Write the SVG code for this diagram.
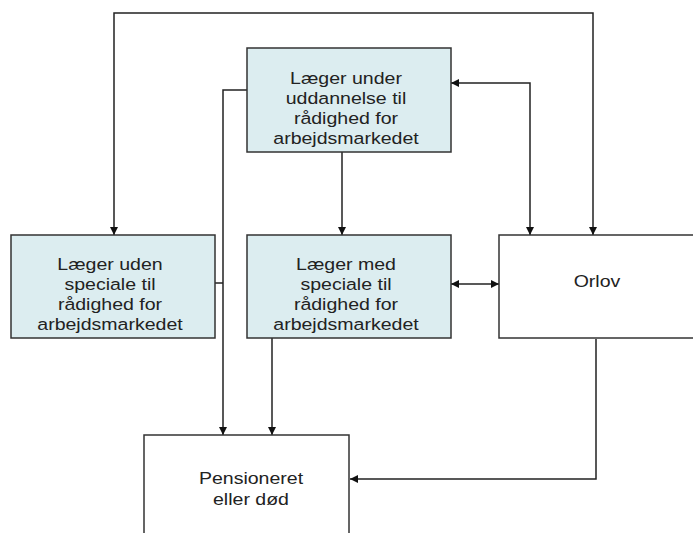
<svg xmlns="http://www.w3.org/2000/svg" width="693" height="533" viewBox="0 0 693 533">
<style>
.box{stroke:#333;stroke-width:1.5}
.blue{fill:#DCEDF0}
.white{fill:#FFFFFF}
.t{font-family:"Liberation Sans",Arial,sans-serif;font-size:17px;fill:#222;text-anchor:middle}
.c{fill:none;stroke:#222;stroke-width:1.5}
</style>
<defs>
<marker id="ah" viewBox="0 0 10 10" refX="10" refY="5" markerWidth="9" markerHeight="8" markerUnits="userSpaceOnUse" orient="auto-start-reverse">
<path d="M0,0 L10,5 L0,10 z" fill="#111"/>
</marker>
</defs>
<rect width="693" height="533" fill="#FFFFFF"/>
<g id="connectors">
<polyline class="c" points="114,235 114,13 593,13 593,235" marker-start="url(#ah)" marker-end="url(#ah)"/>
<polyline class="c" points="451,83 530,83 530,235" marker-start="url(#ah)" marker-end="url(#ah)"/>
<polyline class="c" points="247,90 223,90 223,435" marker-end="url(#ah)"/>
<line class="c" x1="215" y1="283" x2="223" y2="283"/>
<line class="c" x1="342" y1="152" x2="342" y2="235" marker-end="url(#ah)"/>
<line class="c" x1="451" y1="284" x2="499" y2="284" marker-start="url(#ah)" marker-end="url(#ah)"/>
<line class="c" x1="272" y1="338" x2="272" y2="435" marker-end="url(#ah)"/>
<polyline class="c" points="596,339 596,479 350,479" marker-end="url(#ah)"/>
</g>
<g id="under-uddannelse">
<rect class="box blue" x="247" y="48" width="204" height="104"/>
<g transform="translate(346,0) scale(1.15,1)">
<text class="t" x="0" y="84">Læger under</text>
<text class="t" x="0" y="104">uddannelse til</text>
<text class="t" x="0" y="124">rådighed for</text>
<text class="t" x="0" y="144">arbejdsmarkedet</text>
</g>
</g>
<g id="uden-speciale">
<rect class="box blue" x="11" y="235" width="204" height="103"/>
<g transform="translate(110,0) scale(1.15,1)">
<text class="t" x="0" y="270">Læger uden</text>
<text class="t" x="0" y="290">speciale til</text>
<text class="t" x="0" y="310">rådighed for</text>
<text class="t" x="0" y="330">arbejdsmarkedet</text>
</g>
</g>
<g id="med-speciale">
<rect class="box blue" x="247" y="235" width="204" height="103"/>
<g transform="translate(346,0) scale(1.15,1)">
<text class="t" x="0" y="270">Læger med</text>
<text class="t" x="0" y="290">speciale til</text>
<text class="t" x="0" y="310">rådighed for</text>
<text class="t" x="0" y="330">arbejdsmarkedet</text>
</g>
</g>
<g id="orlov">
<rect class="box white" x="499" y="235" width="204" height="103"/>
<g transform="translate(597,0) scale(1.15,1)">
<text class="t" x="0" y="287">Orlov</text>
</g>
</g>
<g id="pensioneret">
<rect class="box white" x="144" y="435" width="205" height="110"/>
<g transform="translate(251,0) scale(1.15,1)">
<text class="t" x="0" y="484">Pensioneret</text>
<text class="t" x="0" y="505">eller død</text>
</g>
</g>
</svg>
